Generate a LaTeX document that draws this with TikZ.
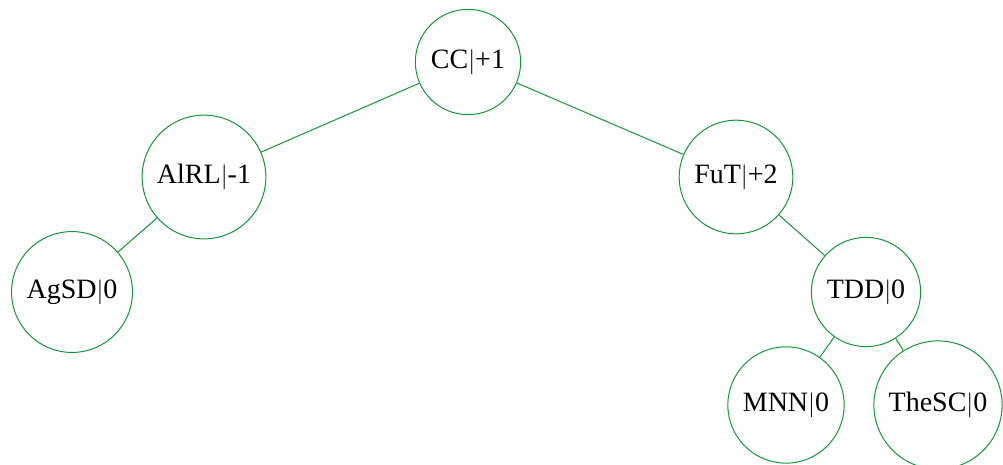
\documentclass[tikz,border=0pt]{standalone}
\usepackage{fontspec}
\setmainfont{Liberation Serif}
\definecolor{treegreen}{RGB}{20,150,60}
\begin{document}
\begin{tikzpicture}[x=1pt,y=-1pt,
  treenode/.style={circle,draw=treegreen,line width=1pt,inner sep=10.5pt,
    font=\fontsize{28}{34}\selectfont},
  treeedge/.style={draw=treegreen,line width=1pt}]
\useasboundingbox (0,0) rectangle (1003,464);
\node[treenode] (cc)    at (468,62)  {CC$|$+1};
\node[treenode] (alrl)  at (204,177) {AlRL$|$-1};
\node[treenode] (fut)   at (736,177) {FuT$|$+2};
\node[treenode] (agsd)  at (72,292)  {AgSD$|$0};
\node[treenode] (tdd)   at (866,292) {TDD$|$0};
\node[treenode] (mnn)   at (786,405) {MNN$|$0};
\node[treenode] (thesc) at (938,405) {TheSC$|$0};
\path[treeedge] (cc) -- (alrl);
\path[treeedge] (cc) -- (fut);
\path[treeedge] (alrl) -- (agsd);
\path[treeedge] (fut) -- (tdd);
\path[treeedge] (tdd) -- (mnn);
\path[treeedge] (tdd) -- (thesc);
\end{tikzpicture}
\end{document}
